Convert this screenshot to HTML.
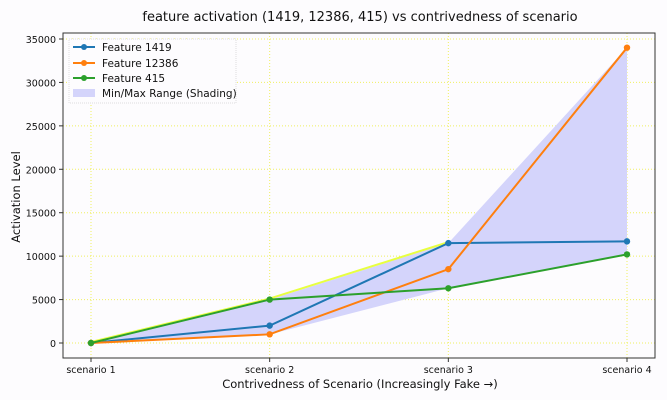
<!DOCTYPE html>
<html><head><meta charset="utf-8"><style>
body{margin:0;background:#fff;}
svg{display:block;font-family:"DejaVu Sans","Liberation Sans",sans-serif;}
</style></head><body>
<svg id="chart" width="667" height="400">
<rect x="0" y="0" width="667" height="400" fill="#fdfcfe"/>
<text x="360" y="21" text-anchor="middle" font-size="13" fill="#111">feature activation (1419, 12386, 415) vs contrivedness of scenario</text>
<g id="grid"></g>
<g id="shade"></g>
<g id="series"></g>
<g id="axes"></g>
<text x="360" y="388" text-anchor="middle" font-size="11.5" fill="#111">Contrivedness of Scenario (Increasingly Fake →)</text>
<text transform="translate(20,197) rotate(-90)" text-anchor="middle" font-size="11.5" fill="#111">Activation Level</text>
<g>
<rect x="69" y="39" width="167" height="64" fill="#fdfcfe" stroke="#ddd" stroke-dasharray="1,1"/>
<g><line x1="73" y1="47" x2="95" y2="47" stroke="#1f77b4" stroke-width="2"/><circle cx="84" cy="47" r="3" fill="#1f77b4"/><text x="102" y="51" font-size="10.5" fill="#111">Feature 1419</text></g>
<g><line x1="73" y1="63" x2="95" y2="63" stroke="#ff7f0e" stroke-width="2"/><circle cx="84" cy="63" r="3" fill="#ff7f0e"/><text x="102" y="67" font-size="10.5" fill="#111">Feature 12386</text></g>
<g><line x1="73" y1="78" x2="95" y2="78" stroke="#2ca02c" stroke-width="2"/><circle cx="84" cy="78" r="3" fill="#2ca02c"/><text x="102" y="82" font-size="10.5" fill="#111">Feature 415</text></g>
<g><rect x="73" y="89" width="22" height="8" fill="#d4d4fb"/><text x="102" y="97" font-size="10.5" fill="#111">Min/Max Range (Shading)</text></g>
</g>
</svg>
<script>
const categories=["scenario 1","scenario 2","scenario 3","scenario 4"];
const f1419=[0,2000,11500,11700];
const f12386=[0,1000,8500,34000];
const f415=[0,5000,6300,10200];
const yTicks=[0,5000,10000,15000,20000,25000,30000,35000];
const NS="http://www.w3.org/2000/svg";
const L=63,R=655,T=33,B=358;
const x=i=>91+i*(627-91)/(categories.length-1);
const y=v=>343-v*(304/35000);
function mk(t,a,p){const e=document.createElementNS(NS,t);for(const k in a)e.setAttribute(k,a[k]);p.appendChild(e);return e;}
const grid=document.getElementById('grid'),axes=document.getElementById('axes'),shade=document.getElementById('shade'),ser=document.getElementById('series');
yTicks.forEach(v=>{
 const g=mk('line',{x1:L,x2:R,y1:y(v),y2:y(v),stroke:'#f0f060','stroke-dasharray':'1,2','stroke-width':1},grid);
 
 
 mk('line',{x1:L-4,x2:L,y1:y(v),y2:y(v),stroke:'#333'},axes);
 const t=mk('text',{x:L-7,y:y(v)+4,'text-anchor':'end','font-size':9.5,fill:'#111'},axes);t.textContent=v;
 
 
});
categories.forEach((c,i)=>{
 const g=mk('line',{x1:x(i),x2:x(i),y1:T,y2:B,stroke:'#f0f060','stroke-dasharray':'1,2'},grid);
 
 
 mk('line',{x1:x(i),x2:x(i),y1:B,y2:B+4,stroke:'#333'},axes);
 const t=mk('text',{x:x(i),y:B+15,'text-anchor':'middle','font-size':9.5,fill:'#111'},axes);t.textContent=c;
 
 
});
const fr=mk('rect',{x:L,y:T,width:R-L,height:B-T,fill:'none',stroke:'#333','stroke-width':1},axes);


const mx=categories.map((c,i)=>Math.max(f1419[i],f12386[i],f415[i]));
const mn=categories.map((c,i)=>Math.min(f1419[i],f12386[i],f415[i]));
let d=mx.map((v,i)=>(i?'L':'M')+x(i)+','+y(v)).join(' ');
for(let i=mn.length-1;i>=0;i--)d+=' L'+x(i)+','+y(mn[i]);
const sh=mk('path',{d:d+' Z',fill:'#d4d4fb'},shade);


const edge=mk('polyline',{points:mx.slice(0,3).map((v,i)=>x(i)+','+(y(v)-1)).join(' '),fill:'none',stroke:'#e8ff40','stroke-width':2},shade);


[[f1419,'#1f77b4','series-1419'],[f12386,'#ff7f0e','series-12386'],[f415,'#2ca02c','series-415']].forEach(([arr,col,nm])=>{
 const p=mk('polyline',{points:arr.map((v,i)=>x(i)+','+y(v)).join(' '),fill:'none',stroke:col,'stroke-width':2},ser);
 
 
 arr.forEach((v,i)=>{const c=mk('circle',{cx:x(i),cy:y(v),r:3.2,fill:col},ser);
  
  });
});
</script>
</body></html>
